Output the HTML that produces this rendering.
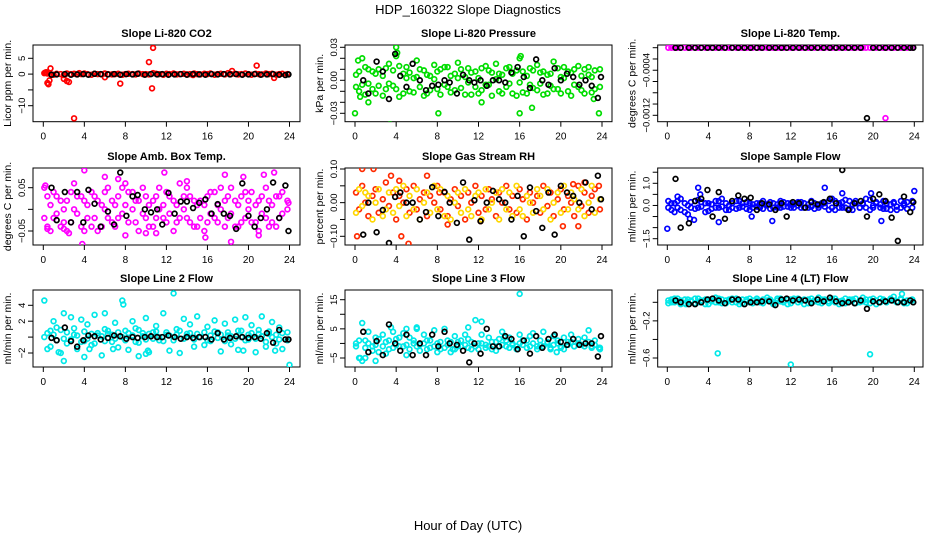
<!DOCTYPE html>
<html><head><meta charset="utf-8">
<style>
html,body{margin:0;padding:0;background:#fff;}
svg{display:block;font-family:"Liberation Sans",sans-serif;}
</style></head>
<body>
<svg id="chart" width="936" height="540" viewBox="0 0 936 540" xmlns="http://www.w3.org/2000/svg">
<text x="468" y="14" text-anchor="middle" font-size="13">HDP_160322  Slope Diagnostics</text>
<text x="468" y="530" text-anchor="middle" font-size="13">Hour of Day (UTC)</text>
</svg>
<script>
const hourTicks=[0,4,8,12,16,20,24];
const cloudHours=[0.1,0.4,0.7,1.0,1.3,1.7,2.0,2.3,2.7,3.0,3.3,3.7,4.0,4.3,4.7,5.0,5.3,5.7,6.0,6.3,6.7,7.0,7.3,7.7,8.0,8.3,8.7,9.0,9.3,9.7,10.0,10.3,10.7,11.0,11.3,11.7,12.0,12.3,12.7,13.0,13.3,13.7,14.0,14.3,14.7,15.0,15.3,15.7,16.0,16.3,16.7,17.0,17.3,17.7,18.0,18.3,18.7,19.0,19.3,19.7,20.0,20.3,20.7,21.0,21.3,21.7,22.0,22.3,22.7,23.0,23.3,23.8];
const blackHours=[0.8,1.3,2.1,2.7,3.3,3.9,4.4,5.0,5.6,6.3,6.9,7.5,8.1,8.7,9.2,9.9,10.5,11.1,11.6,12.2,12.8,13.4,14.0,14.6,15.2,15.8,16.4,17.0,17.6,18.2,18.8,19.4,20.0,20.6,21.2,21.8,22.4,23.0,23.6,23.9];

const co2A=[0.3,0.2,0,-0.2,0.1,0,-0.3,0.2,0,0.1,-0.1,0,0.2,0,-0.2,0.1,0,-0.1,0.2,0,-0.1,0,0.1,-0.2,0,0.1,0,-0.1,0.2,0,0,-0.1,0.3,0.1,0,-0.2,0.1,0,0.2,-0.1,0,0.1,-0.1,0,0.2,0,-0.1,0.1,0,0.2,-0.2,0,0.1,-0.1,0.3,0,0.1,-0.1,0,0.2,0,-0.2,0.1,0,-0.1,0.2,0,0.1,-0.2,0,0.1,0];
const co2ExtraX=[0.2,0.4,0.5,0.6,0.7,2.0,2.3,2.5,3.0,6.0,7.5,10.3,10.6,10.7,14.6,18.4,20.8,22.5,0.3,3.5];
const co2ExtraY=[0.5,-2.8,-3.2,-2,1.8,-1.5,-2.2,-2.5,-14,-1,-3,3.8,-4.5,8.3,-0.3,1,2.7,-1.2,0.6,0.3];
const co2Black=[-0.2,-0.1,0,-0.2,-0.1,0,-0.2,0.1,0,-0.1,0,-0.2,0,-0.1,0.1,-0.2,0,-0.1,0,-0.2,-0.1,0,-0.2,0,-0.1,-0.2,0,-0.1,0,-0.1,0,-0.2,-0.1,0,-0.2,-0.1,0,-0.2,-0.3,-0.1];

const presA=[0.005,-0.01,0.02,0.012,-0.003,0.008,-0.012,0.01,0.004,-0.008,0.015,-0.005,0.022,-0.015,0.006,0.012,-0.01,0.002,0.018,-0.006,0.009,-0.012,0.004,0.014,-0.008,0.01,-0.004,0.012,-0.011,0.006,0.016,-0.007,0.003,0.011,-0.013,0.008,0.002,-0.009,0.013,-0.004,0.007,0.015,-0.01,0.005,-0.006,0.012,-0.012,0.009,0.02,-0.011,0.004,0.011,-0.007,0.014,-0.003,0.008,-0.012,0.006,0.017,-0.008,0.003,0.012,-0.01,0.007,-0.004,0.013,-0.009,0.01,0.005,-0.011,0.009,-0.006];
const presB=[-0.006,0.008,-0.004,-0.013,0.01,-0.008,0.006,-0.005,-0.014,0.011,-0.003,0.009,-0.008,0.013,-0.012,0.002,0.007,-0.011,0.003,0.01,-0.014,0.005,-0.009,0.001,0.008,-0.013,0.012,-0.006,0.004,-0.009,0.002,0.01,-0.013,-0.002,0.007,-0.006,-0.012,0.011,-0.004,0.009,-0.014,0.001,0.006,-0.012,0.011,-0.003,0.006,-0.014,-0.002,0.008,-0.012,-0.004,0.009,-0.009,0.007,-0.013,0.005,-0.005,-0.008,0.011,-0.012,0.002,0.008,-0.014,0.01,-0.006,0.004,-0.012,0.012,0.003,-0.008,0.01];
const presExtraX=[0,0.3,0.5,1.3,3.4,4.0,4.1,8.1,12.3,16.1,16.0,17.2,23.7,23.2];
const presExtraY=[-0.03,0.018,-0.015,-0.02,-0.04,0.03,0.025,-0.03,-0.02,0.022,-0.03,-0.025,-0.03,-0.017];
const presBlack=[0,-0.012,0.017,0.008,-0.017,0.024,0.004,-0.006,0.015,0,-0.009,-0.005,-0.004,0,-0.002,-0.012,0.005,0,-0.002,0,-0.005,0,0,-0.002,0.007,0.012,0.003,-0.007,0.019,0,-0.004,0.011,0,0.006,0.003,-0.004,0,-0.005,-0.016,0.003];

const ltA=[0,0,0,0,0,0,0,0,0,0,0,0,0,0,0,0,0,0,0,0,0,0,0,0,0,0,0,0,0,0,0,0,0,0,0,0,0,0,0,0,0,0,0,0,0,0,0,0,0,0,0,0,0,0,0,0,0,0,0,0,0,0,0,0,0,0,0,0,0,0,0,0];
const ltExtraX=[21.2];
const ltExtraY=[-0.00125];
const ltBlack=[0,0,0,0,0,0,0,0,0,0,0,0,0,0,0,0,0,0,0,0,0,0,0,0,0,0,0,0,0,0,0,-0.00125,0,0,0,0,0,0,0,0];

const boxA=[0.05,-0.04,0.01,-0.02,0.03,-0.04,0.0,0.02,-0.03,0.06,-0.01,0.03,-0.05,0.01,0.04,-0.02,0.02,-0.04,0.0,0.05,-0.03,0.01,0.03,-0.01,-0.06,0.04,0.0,-0.03,0.02,0.05,-0.02,0.01,-0.04,0.03,0.0,-0.02,0.04,-0.01,0.02,-0.03,0.06,0.0,-0.02,0.03,-0.04,0.01,0.02,-0.05,0.03,-0.01,0.04,-0.03,0.0,0.02,-0.02,0.05,-0.04,0.01,0.03,-0.02,0.0,0.04,-0.03,0.02,-0.01,0.05,-0.04,0.01,0.03,-0.02,0.04,0.0];
const boxB=[-0.02,0.03,-0.05,0.04,-0.01,0.02,-0.03,-0.05,0.04,0.0,0.03,-0.04,0.02,-0.02,-0.04,0.03,-0.05,0.01,0.04,-0.02,0.02,-0.04,-0.02,0.05,0.01,-0.03,0.04,0.02,-0.05,-0.01,0.03,-0.04,0.02,-0.02,0.05,0.01,-0.03,0.03,-0.05,0.01,-0.02,0.03,0.05,-0.03,0.02,-0.04,-0.02,0.01,-0.03,0.04,-0.02,0.01,0.05,-0.04,0.03,-0.01,0.02,-0.04,-0.03,0.04,0.02,-0.03,0.01,-0.05,0.03,-0.02,0.02,-0.03,-0.04,0.03,-0.01,0.02];
const boxExtraX=[0.2,0.4,2.0,2.5,4.0,6.0,7.3,8.0,10.0,11.0,14.0,15.8,17.7,19.5,21.0,21.5,22.5,23.9,11.8,18.3,3.8];
const boxExtraY=[0.055,-0.045,-0.045,-0.055,0.09,0.075,0.07,0.06,-0.055,-0.055,0.065,-0.065,0.08,0.075,-0.06,0.08,0.085,0.015,0.085,-0.075,-0.08];
const boxBlack=[0.05,-0.025,0.04,-0.03,0.04,-0.03,0.045,0.013,-0.04,-0.005,-0.035,0.085,-0.015,0.03,0.033,0.0,-0.007,0.0,-0.035,0.038,-0.01,0.018,0.018,0.003,0.015,0.023,-0.01,0.012,-0.01,-0.015,-0.045,0.06,-0.015,-0.04,-0.02,0.0,0.062,-0.02,0.055,-0.05];

const rhA=[0.03,-0.02,0.05,0.0,-0.04,0.02,0.04,-0.03,0.01,0.06,-0.01,0.03,-0.05,0.02,0.0,0.04,-0.03,0.05,-0.02,0.01,0.03,-0.04,0.02,0.0,0.05,-0.02,0.03,-0.04,0.01,0.04,-0.01,0.02,-0.05,0.03,0.0,0.05,-0.03,0.02,-0.02,0.04,0.01,-0.04,0.03,0.0,0.05,-0.02,0.02,-0.03,0.04,0.01,-0.05,0.03,0.0,0.02,-0.03,0.05,-0.01,0.03,-0.04,0.01,0.04,-0.02,0.02,0.0,-0.04,0.05,-0.01,0.03,-0.03,0.02,0.04,-0.02];
const rhB=[-0.03,0.04,-0.01,0.03,0.02,-0.05,0.0,0.04,-0.04,-0.02,0.03,-0.03,0.04,-0.01,0.05,-0.04,0.02,-0.02,0.04,-0.05,0.0,0.03,-0.03,0.05,-0.02,0.04,-0.04,0.02,-0.05,0.0,0.03,-0.03,0.04,-0.02,-0.04,0.02,0.03,-0.05,0.04,-0.02,0.0,0.03,-0.05,0.04,-0.02,0.03,-0.04,0.05,-0.02,-0.04,0.02,0.0,-0.03,0.04,0.02,-0.02,0.04,-0.05,0.0,0.03,-0.03,0.05,-0.02,0.03,0.01,-0.02,0.04,-0.04,0.0,0.05,-0.03,0.01];
const rhExtraX=[0.2,0.7,1.8,4.3,3.5,4.5,5.2,8.2,9.0,12.2,20.2,21.2,22.3,21.7,23.7,7.0];
const rhExtraY=[-0.1,0.1,0.1,0.065,0.08,-0.1,-0.122,0.03,-0.065,-0.055,-0.07,0.055,0.06,-0.07,0.05,0.08];
const rhBlack=[-0.095,0.0,-0.088,-0.022,-0.12,0.017,0.03,0.0,0.0,-0.05,-0.028,0.046,-0.04,0.032,0.0,-0.06,0.06,-0.11,0.007,-0.055,0.0,0.035,0.01,0.0,-0.05,0.02,-0.1,0.045,-0.025,-0.075,0.03,-0.095,0.05,0.03,0.02,0.0,0.06,-0.02,0.08,0.01];

const sfA=[0.2,-0.2,0.1,-0.1,0.3,-0.3,0.0,0.15,-0.15,0.25,-0.05,0.1,-0.25,0.05,0.2,-0.1,0.3,-0.2,0.0,0.1,-0.15,0.2,-0.05,0.15,-0.2,0.05,0.1,-0.1,0.2,0.0,-0.15,0.1,0.05,-0.1,0.15,-0.05,0.1,-0.1,0.0,0.15,-0.1,0.05,0.2,-0.15,0.0,0.1,-0.05,0.2,0.3,-0.2,0.1,-0.1,0.25,-0.15,0.05,0.2,-0.1,0.1,0.3,-0.2,0.0,0.15,-0.1,0.2,-0.15,0.05,0.1,-0.2,0.2,0.0,0.15,-0.1];
const sfB=[-0.1,0.1,-0.3,0.2,-0.2,0.1,-0.4,-0.1,0.2,-0.1,0.15,-0.3,0.1,-0.15,-0.1,0.2,-0.05,0.1,-0.2,-0.1,0.2,-0.1,0.1,-0.15,0.1,-0.1,-0.05,0.1,-0.15,0.05,0.15,-0.1,-0.1,0.1,-0.05,0.1,-0.1,0.05,0.15,-0.1,0.1,-0.1,-0.05,0.1,-0.1,0.05,0.1,-0.2,-0.1,0.2,-0.1,0.15,-0.1,0.2,-0.2,0.1,-0.1,0.05,-0.1,0.25,-0.1,0.1,0.05,-0.15,0.1,-0.2,0.15,-0.05,-0.1,0.1,-0.15,0.2];
const sfExtraX=[0,2.2,3.0,3.2,2.6,5.0,8.2,10.2,15.3,17.0,20.8,19.8,24,11.0,1.0];
const sfExtraY=[-1.05,-0.6,0.8,0.5,-0.65,-0.75,-0.5,-0.7,0.8,0.55,-0.7,0.55,0.65,0.2,0.4];
const sfBlack=[1.2,-1.0,-0.8,0.2,0.3,0.7,-0.5,0.6,-0.6,0.2,0.45,0.3,0.35,-0.2,0.1,0.05,-0.2,0.1,-0.5,0.15,0.1,-0.1,0.15,0.05,0.15,0.3,0.1,1.6,-0.2,0.1,0.2,-0.5,0.3,0.5,0.2,-0.55,-1.6,0.4,-0.3,0.15];

const l2A=[4.6,0.5,-1.2,2.0,1.2,-2.0,3.0,-0.8,2.5,0.3,-1.5,2.2,-0.5,1.6,-1.0,2.8,0.2,-2.3,1.0,0.4,-0.6,1.8,-1.3,4.6,0.8,-1.6,2.0,1.1,-0.7,0.5,2.4,-1.9,0.6,1.4,-0.4,3.0,0.3,-1.7,5.5,1.0,-2.0,2.3,0.4,1.6,-1.2,2.6,0.0,-1.0,1.3,-0.5,2.1,0.6,-1.8,1.7,0.2,-0.9,2.2,-1.6,0.8,2.5,-0.3,1.5,-1.9,0.9,2.6,-1.2,0.4,1.9,-0.8,1.2,-1.5,0.6];
const l2B=[0.0,-1.5,0.8,0.3,-0.4,0.9,-0.2,0.6,-0.3,1.1,0.2,-0.6,0.7,-0.2,0.4,-0.8,0.5,0.1,-0.5,0.8,0.3,-0.2,0.6,0.0,-0.4,0.5,0.2,-0.6,0.9,0.1,-0.3,0.4,-0.2,0.7,0.0,-0.5,0.6,0.2,-0.4,0.3,0.8,-0.2,0.1,0.5,-0.3,0.4,0.0,0.6,-0.4,0.2,0.7,-0.1,0.3,-0.5,0.6,0.1,-0.2,0.8,0.0,-0.4,0.3,0.5,-0.2,0.4,0.1,-0.6,0.7,0.0,0.3,-0.3,0.5,-0.4];
const l2ExtraX=[1.5,2.0,4.5,4.0,9.3,6.8,10.0,10.2,19.5,22.6,24,7.8,6.0];
const l2ExtraY=[-1.9,-3.0,-1.5,-2.5,-2.4,-1.5,-2.1,-1.7,-1.7,-1.7,-3.5,4.1,3.0];
const l2Black=[-0.1,-0.4,1.2,-0.5,-1.2,-0.4,0.2,0.1,-0.3,-0.1,0.2,0.1,-0.2,0.0,-0.1,0.0,0.1,0.0,0.0,0.2,0.0,-0.2,0.0,-0.1,0.0,0.0,-0.3,0.5,-0.3,-0.1,0.1,0.0,-0.1,0.0,-0.2,0.5,-0.7,0.9,-0.3,-0.3];

const l3A=[0.0,-5.0,7.0,1.0,4.0,-1.0,2.0,-3.0,3.0,0.5,-2.0,4.0,1.5,-1.0,3.5,-4.0,2.0,0.0,5.0,-2.5,3.0,1.0,-1.5,4.5,0.0,-2.0,5.0,1.0,-3.0,2.5,0.5,-1.0,3.0,1.5,-2.0,8.0,0.0,3.0,-1.5,2.0,0.5,-2.5,1.5,4.0,-1.0,2.0,0.0,-2.0,3.0,1.0,-1.5,2.5,3.5,-1.0,1.0,4.0,0.0,-2.0,2.5,1.0,-1.5,2.0,0.5,3.0,-1.0,1.5,-0.5,2.0,4.5,-1.0,1.0,-1.5];
const l3B=[-1.0,1.0,-6.0,-1.5,0.0,-2.5,-0.5,1.5,-1.0,-3.5,1.0,-1.5,-0.5,2.0,-1.0,-0.5,-2.0,1.0,-1.0,-0.5,0.0,-2.0,1.0,-1.0,-3.0,0.5,-1.5,-0.5,0.5,-2.0,-1.0,1.0,-0.5,-1.5,0.5,-1.0,-2.0,0.0,-0.5,-1.0,-2.0,0.5,-1.0,-0.5,1.0,-1.5,-0.5,-1.0,0.0,-0.5,1.0,-1.0,0.0,-2.0,-0.5,-1.0,0.5,-1.5,-0.5,0.0,-1.0,-2.0,-0.5,0.5,-1.0,0.0,-0.5,-1.0,0.5,-1.5,-0.5,-2.0];
const l3ExtraX=[0.5,1.0,2.0,3.5,5.0,6.0,9.5,11.0,12.3,16.0,19.6,23.7,14.5];
const l3ExtraY=[-5.0,-5.0,-6.0,5.5,5.0,5.5,-2.0,5.5,7.5,17.0,-3.0,-1.5,2.0];
const l3Black=[4.0,-3.0,0.8,-4.0,6.5,0.0,-2.5,3.0,-4.0,0.0,-4.0,3.0,-1.0,4.0,0.0,-0.5,-2.5,-6.5,0.0,-3.5,5.0,-1.0,-1.0,2.5,1.5,-2.0,1.0,-3.5,2.5,-1.5,1.5,3.0,0.5,-0.5,1.5,-0.5,0.0,0.0,-4.5,2.5];

const l4A=[0.02,0.0,0.04,0.01,-0.02,0.03,0.0,0.02,-0.01,0.04,0.01,0.03,-0.02,0.02,0.05,0.0,0.03,-0.01,0.02,0.04,0.0,-0.02,0.03,0.01,0.04,-0.01,0.02,0.0,0.03,0.05,0.01,-0.02,0.02,0.04,0.0,0.03,-0.01,0.02,0.04,0.01,-0.02,0.03,0.0,0.02,0.05,-0.01,0.03,0.01,0.04,0.0,-0.02,0.02,0.04,0.01,0.03,-0.01,0.02,0.05,0.0,0.03,0.01,-0.02,0.04,0.02,0.0,0.03,0.06,0.01,0.04,-0.01,0.02,0.03];
const l4B=[-0.01,0.03,0.0,0.04,0.02,-0.01,0.03,0.01,0.04,0.0,0.02,-0.02,0.03,0.01,0.0,0.04,-0.01,0.02,0.03,0.0,0.04,0.02,-0.01,0.03,0.0,0.02,0.04,0.01,-0.01,0.02,0.03,0.0,0.04,0.01,0.02,-0.02,0.03,0.04,0.0,0.02,0.03,-0.01,0.04,0.01,0.0,0.03,0.02,-0.01,0.02,0.04,0.01,0.0,-0.01,0.03,0.02,0.04,0.0,0.01,0.03,-0.01,0.04,0.02,0.0,0.03,0.01,0.04,0.02,0.0,0.03,0.01,-0.01,0.02];
const l4ExtraX=[4.9,12.0,19.7,22.8,1.8];
const l4ExtraY=[-0.55,-0.67,-0.56,0.09,-0.02];
const l4Black=[0.02,0.0,-0.02,-0.02,0.0,0.03,0.04,0.02,-0.01,0.03,0.03,-0.02,0.0,0.0,0.01,0.01,-0.03,0.03,0.04,0.02,0.03,0.02,-0.01,0.03,0.01,0.05,0.01,-0.01,0.0,-0.01,0.02,-0.07,0.01,0.0,0.01,0.02,0.0,0.0,0.02,0.0];

const NS="http://www.w3.org/2000/svg";
const svg=document.getElementById('chart');
function mk(tag,attrs,parent){const e=document.createElementNS(NS,tag);for(const k in attrs)e.setAttribute(k,attrs[k]);(parent||svg).appendChild(e);return e;}

const cols=[{l:33,r:300,x0:43.3,x24:289.5},{l:345,r:612,x0:355,x24:602},{l:657.7,r:923,x0:667.3,x24:914.3}];
const rows=[{t:45,b:121.7},{t:168,b:245},{t:290,b:367}];
const panels=[
 {key:'co2',title:'Slope Li-820 CO2',ylab:'Licor ppm per min.',c:0,r:0,ref:[5,58.3,-10,105.7],ticks:[5,0,-5,-10],labels:[5,0,-10],fmt:v=>String(v),A:co2A,B:null,ex:co2ExtraX,ey:co2ExtraY,bk:co2Black,colA:'#ff0000',colB:null},
 {key:'pressure',title:'Slope Li-820 Pressure',ylab:'kPa per min.',c:1,r:0,ref:[0.03,47.3,-0.03,113.3],ticks:[0.03,0.02,0.01,0,-0.01,-0.02,-0.03],labels:[0.03,0,-0.03],fmt:v=>v.toFixed(2),A:presA,B:presB,ex:presExtraX,ey:presExtraY,bk:presBlack,colA:'#00dd00',colB:'#00dd00'},
 {key:'li-temp',title:'Slope Li-820 Temp.',ylab:'degrees C per min.',c:2,r:0,ref:[0,47.7,-0.0012,115.3],ticks:[0,-0.0002,-0.0004,-0.0006,-0.0008,-0.001,-0.0012],labels:[-0.0004,-0.0012],fmt:v=>v.toFixed(4),A:ltA,B:null,ex:ltExtraX,ey:ltExtraY,bk:ltBlack,colA:'#ff00ff',colB:null},
 {key:'amb-box-temp',title:'Slope Amb. Box Temp.',ylab:'degrees C per min.',c:0,r:1,ref:[0.05,187.7,-0.05,231],ticks:[0.05,0,-0.05],labels:[0.05,-0.05],fmt:v=>v.toFixed(2),A:boxA,B:boxB,ex:boxExtraX,ey:boxExtraY,bk:boxBlack,colA:'#ff00ff',colB:'#ff00ff'},
 {key:'gas-stream-rh',title:'Slope Gas Stream RH',ylab:'percent per min.',c:1,r:1,ref:[0.1,169,-0.1,236.3],ticks:[0.1,0.05,0,-0.05,-0.1],labels:[0.1,0,-0.1],fmt:v=>v.toFixed(2),A:rhA,B:rhB,ex:rhExtraX,ey:rhExtraY,bk:rhBlack,colA:'#ff2a00',colB:'#ffd700'},
 {key:'sample-flow',title:'Slope Sample Flow',ylab:'ml/min per min.',c:2,r:1,ref:[1,183.3,-1.5,238.7],ticks:[1.5,1,0.5,0,-0.5,-1,-1.5],labels:[1,0,-1.5],fmt:v=>v.toFixed(1),A:sfA,B:sfB,ex:sfExtraX,ey:sfExtraY,bk:sfBlack,colA:'#0000ff',colB:'#0000ff'},
 {key:'line2-flow',title:'Slope Line 2 Flow',ylab:'ml/min per min.',c:0,r:2,ref:[4,305.3,-2,353],ticks:[4,2,0,-2],labels:[4,2,-2],fmt:v=>String(v),A:l2A,B:l2B,ex:l2ExtraX,ey:l2ExtraY,bk:l2Black,colA:'#00e8e8',colB:'#00e8e8'},
 {key:'line3-flow',title:'Slope Line 3 Flow',ylab:'ml/min per min.',c:1,r:2,ref:[15,299.7,-5,358],ticks:[15,10,5,0,-5],labels:[15,5,-5],fmt:v=>String(v),A:l3A,B:l3B,ex:l3ExtraX,ey:l3ExtraY,bk:l3Black,colA:'#00e8e8',colB:'#00e8e8'},
 {key:'line4-flow',title:'Slope Line 4 (LT) Flow',ylab:'ml/min per min.',c:2,r:2,ref:[0,302.3,-0.6,358],ticks:[0,-0.2,-0.4,-0.6],labels:[-0.2,-0.6],fmt:v=>v.toFixed(1),A:l4A,B:l4B,ex:l4ExtraX,ey:l4ExtraY,bk:l4Black,colA:'#00e8e8',colB:'#00e8e8'}
];

panels.forEach(p=>{
  const C=cols[p.c],R=rows[p.r];
  const g=mk('g',{});
  
  
  const xs=h=>C.x0+(C.x24-C.x0)*h/24;
  const ys=v=>p.ref[1]+(v-p.ref[0])*(p.ref[3]-p.ref[1])/(p.ref[2]-p.ref[0]);
  const t=mk('text',{x:(C.l+C.r)/2,y:R.t-8,'text-anchor':'middle','font-size':'11','font-weight':'bold'},g);
  t.textContent=p.title;
  
  
  const yl=mk('text',{x:0,y:0,'text-anchor':'middle','font-size':'10.5',transform:`translate(${C.l-22},${(R.t+R.b)/2}) rotate(-90)`},g);
  yl.textContent=p.ylab;
  
  
  const box=mk('rect',{x:C.l,y:R.t,width:C.r-C.l,height:R.b-R.t,fill:'none',stroke:'#000','stroke-width':'1'},g);
  
  
  hourTicks.forEach(h=>{
    const x=xs(h);
    const tk=mk('line',{x1:x,x2:x,y1:R.b,y2:R.b+5,stroke:'#000'},g);
    
    
    const tl=mk('text',{x:x,y:R.b+18,'text-anchor':'middle','font-size':'10'},g);
    tl.textContent=h;
    
    
  });
  p.ticks.forEach(v=>{
    const y=ys(v);
    const tk=mk('line',{x1:C.l-5,x2:C.l,y1:y,y2:y,stroke:'#000'},g);
    
    
  });
  p.labels.forEach(v=>{
    const y=ys(v);
    const tl=mk('text',{x:0,y:0,'text-anchor':'middle','font-size':'9.5',transform:`translate(${C.l-8},${y}) rotate(-90)`},g);
    tl.textContent=p.fmt(v).replace('-','\u2212');
    
    
  });
  const cid='clip-'+p.key;
  const cp=mk('clipPath',{id:cid},g);
  mk('rect',{x:C.l,y:R.t,width:C.r-C.l,height:R.b-R.t},cp);
  const pts=mk('g',{'clip-path':`url(#${cid})`,fill:'none','stroke-width':'1.7'},g);
  
  
  function dot(h,v,col,name){
    const c=mk('circle',{cx:xs(h),cy:ys(v),r:2.4,stroke:col},pts);
    
    
  }
  p.A.forEach((v,i)=>dot(cloudHours[i],v,p.colA,'point-series-a'));
  p.ex.forEach((h,i)=>dot(h,p.ey[i],p.colA,'point-outlier'));
  if(p.B)p.B.forEach((v,i)=>dot(cloudHours[i],v,p.colB,'point-series-b'));
  p.bk.forEach((v,i)=>dot(blackHours[i],v,'#000','point-black'));
});
</script>
</body></html>
